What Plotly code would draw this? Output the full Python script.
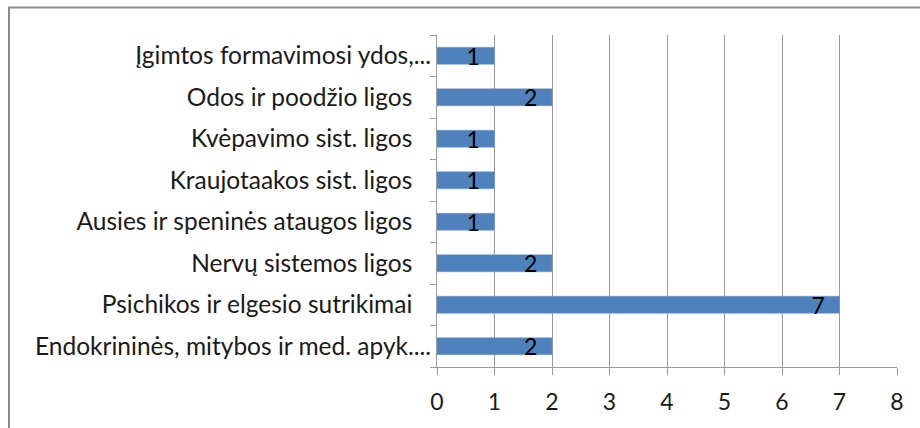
import plotly.graph_objects as go

NBSP = "\u00a0"
categories = [
    "Endokrininės, mitybos ir med. apyk....",
    "Psichikos ir elgesio sutrikimai",
    "Nervų sistemos ligos",
    "Ausies ir speninės ataugos ligos",
    "Kraujotaakos sist. ligos",
    "Kvėpavimo sist. ligos",
    "Odos ir poodžio ligos",
    "Įgimtos formavimosi ydos,...",
]
values = [2, 7, 2, 1, 1, 1, 2, 1]
x_ticks = [0, 1, 2, 3, 4, 5, 6, 7, 8]

# trailing padding for labels that are not truncated (Excel-like)
tick_text = [c if c.endswith("...") else c + NBSP * 3 for c in categories]

FONT = "Lato, Calibri, Carlito, sans-serif"
GRID = "#9a9a9a"
FS = 23
FSY = 24.5

fig = go.Figure()
fig.add_trace(go.Bar(
    y=categories,
    x=values,
    orientation="h",
    marker=dict(color="#4F81BD", line=dict(color="#6f97c9", width=0.5)),
    text=values,
    texttemplate="%{x}" + NBSP * 2,
    textposition="inside",
    insidetextanchor="end",
    textangle=0,
    constraintext="none",
    textfont=dict(color="#000000", size=FS, family=FONT),
    cliponaxis=False,
    hoverinfo="skip",
))

fig.update_layout(
    width=920, height=428,
    margin=dict(l=437, r=23, t=35, b=61),
    paper_bgcolor="white",
    plot_bgcolor="white",
    showlegend=False,
    bargap=0.59,
    font=dict(family=FONT, size=FS, color="#1a1a1a"),
    xaxis=dict(
        range=[0, 8],
        tickvals=x_ticks,
        ticktext=[str(v) for v in x_ticks],
        showgrid=True, gridcolor=GRID, gridwidth=1,
        showline=True, linecolor=GRID, linewidth=1,
        ticks="outside", ticklen=7, tickcolor=GRID,
        ticklabelstandoff=7,
        zeroline=False,
        tickfont=dict(size=FS),
    ),
    yaxis=dict(
        categoryorder="array", categoryarray=categories,
        tickvals=categories, ticktext=tick_text,
        showgrid=False,
        showline=True, linecolor=GRID, linewidth=1,
        ticks="outside", ticklen=6, tickcolor=GRID,
        tickson="boundaries",
        zeroline=False,
        tickfont=dict(size=FSY),
    ),
    shapes=[dict(
        type="rect", xref="paper", yref="paper",
        x0=(9 - 437) / 460, x1=(930 - 437) / 460,
        y0=(367 - 440) / 332, y1=(367 - 7.5) / 332,
        line=dict(color="#8a8a8a", width=2), fillcolor="rgba(0,0,0,0)",
        layer="below",
    )],
)

fig.write_html("out.html", config={"displayModeBar": False},
               post_script="document.body.style.margin='0';")
